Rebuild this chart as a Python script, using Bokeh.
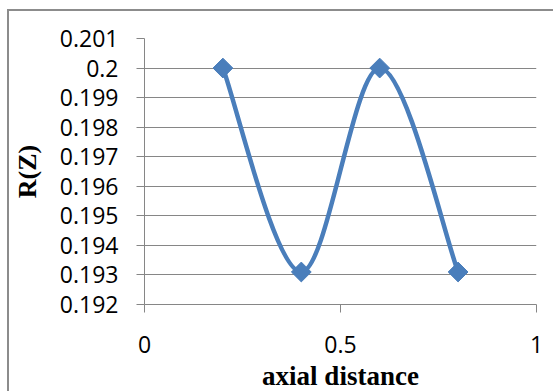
import numpy as np
from bokeh.plotting import figure
from bokeh.models import Range1d, FixedTicker, NumeralTickFormatter
from bokeh.embed import file_html
from bokeh.resources import INLINE

# data
x_vals = [0.2, 0.4, 0.6, 0.8]
r_vals = [0.2, 0.1931, 0.2, 0.1931]
x_ticks = [0, 0.5, 1]
y_ticks = [0.192, 0.193, 0.194, 0.195, 0.196, 0.197, 0.198, 0.199, 0.2, 0.201]
x_title = "axial distance"
y_title = "R(Z)"

BLUE = "#4a7ebb"
GRAY = "#868686"

# the figure sits inside the chart-area border (left/top edges visible)
OX, OY = 9, 11
p = figure(width=553 - OX, height=391 - OY, output_backend="svg", toolbar_location=None,
           x_range=Range1d(0, 1), y_range=Range1d(0.192, 0.201),
           min_border_left=144 - OX, min_border_right=19, min_border_top=38 - OY,
           min_border_bottom=391 - 304)
p.styles = {"margin-left": "7px", "margin-top": "9px", "box-sizing": "content-box",
            "border-left": "2px solid #8c8c8c", "border-top": "2px solid #8c8c8c"}
p.outline_line_color = None
p.background_fill_color = "white"
p.border_fill_color = "white"
p.xgrid.visible = False
p.ygrid.grid_line_color = GRAY
p.ygrid.grid_line_width = 1
p.ygrid.ticker = FixedTicker(ticks=y_ticks)

for ax in (p.xaxis[0], p.yaxis[0]):
    ax.axis_line_color = GRAY
    ax.axis_line_width = 1
    ax.major_tick_line_color = GRAY
    ax.major_tick_out = 8
    ax.major_tick_in = 0
    ax.minor_tick_line_color = None
    ax.major_label_text_font = "Open Sans"
    ax.major_label_text_font_size = "23px"
    ax.major_label_text_color = "#000000"
    ax.axis_label_text_font = "Liberation Serif"
    ax.axis_label_text_font_style = "bold"
    ax.axis_label_text_font_size = "26px"
    ax.axis_label_text_color = "#000000"

p.xaxis.ticker = FixedTicker(ticks=x_ticks)
p.xaxis.formatter = NumeralTickFormatter(format="0.[0]")
p.xaxis.major_label_standoff = 23
p.xaxis.axis_label = x_title
p.xaxis.axis_label_standoff = 5
p.xaxis.axis_label_text_font_size = "27px"

p.yaxis.ticker = FixedTicker(ticks=y_ticks)
p.yaxis.formatter = NumeralTickFormatter(format="0.[000]")
p.yaxis.major_label_standoff = 18
p.yaxis.axis_label = y_title
p.yaxis.axis_label_standoff = 15

# smooth curve (Excel-style Bezier smoothing) computed from the data points
xs = np.array(x_vals)
ys = np.array(r_vals)
n = len(xs)
px = np.concatenate([[xs[0]], xs, [xs[-1]]])
py = np.concatenate([[ys[0]], ys, [ys[-1]]])
x0 = xs[:-1]; y0 = ys[:-1]; x1 = xs[1:]; y1 = ys[1:]
cx0 = x0 + (px[2:n + 1] - px[0:n - 1]) / 6.0
cy0 = y0 + (py[2:n + 1] - py[0:n - 1]) / 6.0
cx1 = x1 - (px[3:n + 2] - px[1:n]) / 6.0
cy1 = y1 - (py[3:n + 2] - py[1:n]) / 6.0
p.bezier(x0=x0, y0=y0, x1=x1, y1=y1, cx0=cx0, cy0=cy0, cx1=cx1, cy1=cy1,
         line_color=BLUE, line_width=4.5)
p.scatter(x_vals, r_vals, marker="square", size=14, angle=np.pi / 4,
          fill_color=BLUE, line_color=BLUE)

open("out.html", "w").write(file_html(p, INLINE))
